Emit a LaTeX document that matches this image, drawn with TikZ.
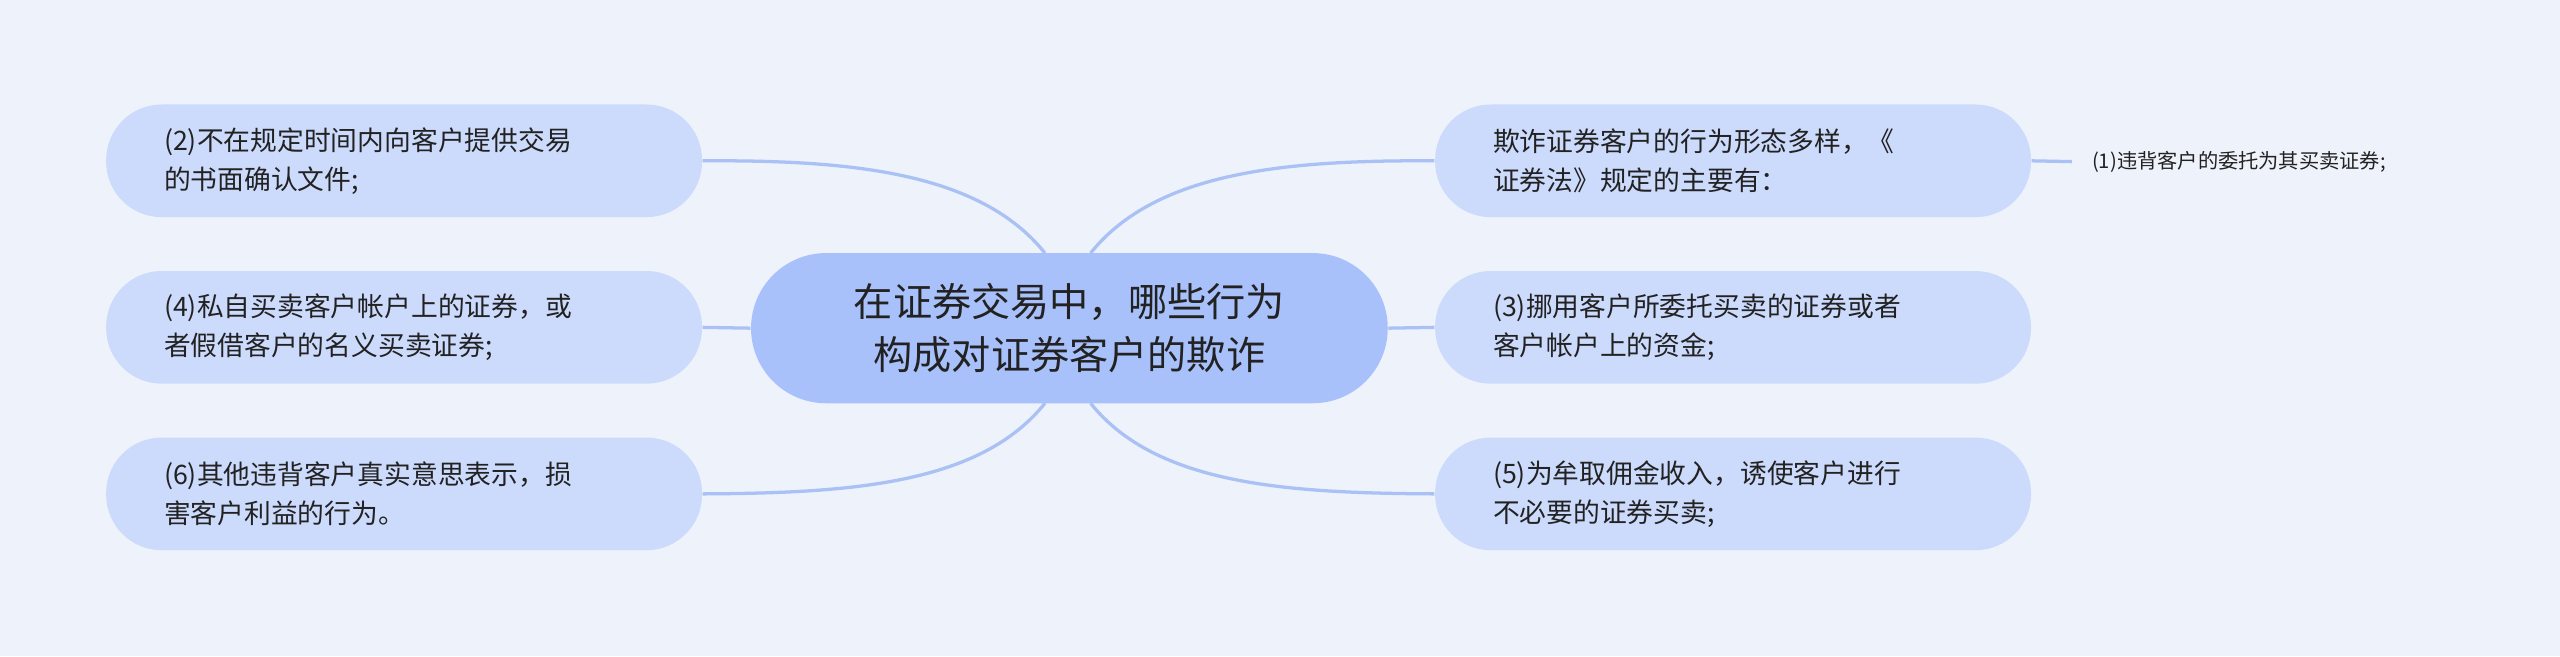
\documentclass[tikz,border=0pt]{standalone}
\usepackage{fontspec}
\setmainfont{Noto Sans CJK SC}
\definecolor{bg}{HTML}{EEF2FB}
\definecolor{cen}{HTML}{A9C1FB}
\definecolor{sub}{HTML}{CCDAFC}
\definecolor{ln}{HTML}{A9C1F5}
\definecolor{tx}{HTML}{222222}
\begin{document}
\begin{tikzpicture}[x=0.5pt,y=-0.5pt,
  subbox/.style={fill=sub,rounded corners=17pt,minimum width=182.5pt,minimum height=34.5pt,inner sep=0pt,text=tx,font=\fontsize{8.2pt}{12pt}\selectfont,align=left,text width=147pt},
  cenbox/.style={fill=cen,rounded corners=23pt,minimum width=195pt,minimum height=46pt,inner sep=0pt,text=tx,font=\fontsize{12pt}{16pt}\selectfont,align=center},
  conn/.style={draw=ln,line width=1pt}]
\fill[bg] (0,0) rectangle (1568,402);
\useasboundingbox (0,0) rectangle (1568,402);
\node[cenbox] (c) at (655,201) {在证券交易中，哪些行为\\构成对证券客户的欺诈};
\node[subbox] (l1) at (247.5,98.5) {(2)不在规定时间内向客户提供交易\\的书面确认文件;};
\node[subbox] (l2) at (247.5,200.5) {(4)私自买卖客户帐户上的证券，或\\者假借客户的名义买卖证券;};
\node[subbox] (l3) at (247.5,302.5) {(6)其他违背客户真实意思表示，损\\害客户利益的行为。};
\node[subbox] (r1) at (1061.5,98.5) {欺诈证券客户的行为形态多样，《\\证券法》规定的主要有：};
\node[subbox] (r2) at (1061.5,200.5) {(3)挪用客户所委托买卖的证券或者\\客户帐户上的资金;};
\node[subbox] (r3) at (1061.5,302.5) {(5)为牟取佣金收入，诱使客户进行\\不必要的证券买卖;};
\node[anchor=west,text=tx,font=\fontsize{6.2pt}{8pt}\selectfont,inner sep=0pt] (f) at (1281,99) {(1)违背客户的委托为其买卖证券;};
\coordinate (cl1) at (640,155); \coordinate (cl3) at (640,247);
\coordinate (cr1) at (668,155); \coordinate (cr3) at (668,247);
\draw[conn] (cl1) .. controls (600,105) and (520,98) .. (l1.east);
\draw[conn] (c.west) -- (l2.east);
\draw[conn] (cl3) .. controls (600,297) and (520,302) .. (l3.east);
\draw[conn] (cr1) .. controls (708,105) and (788,98) .. (r1.west);
\draw[conn] (c.east) -- (r2.west);
\draw[conn] (cr3) .. controls (708,297) and (788,302) .. (r3.west);
\draw[conn] (r1.east) -- ([xshift=-6]f.west);
\end{tikzpicture}
\end{document}
